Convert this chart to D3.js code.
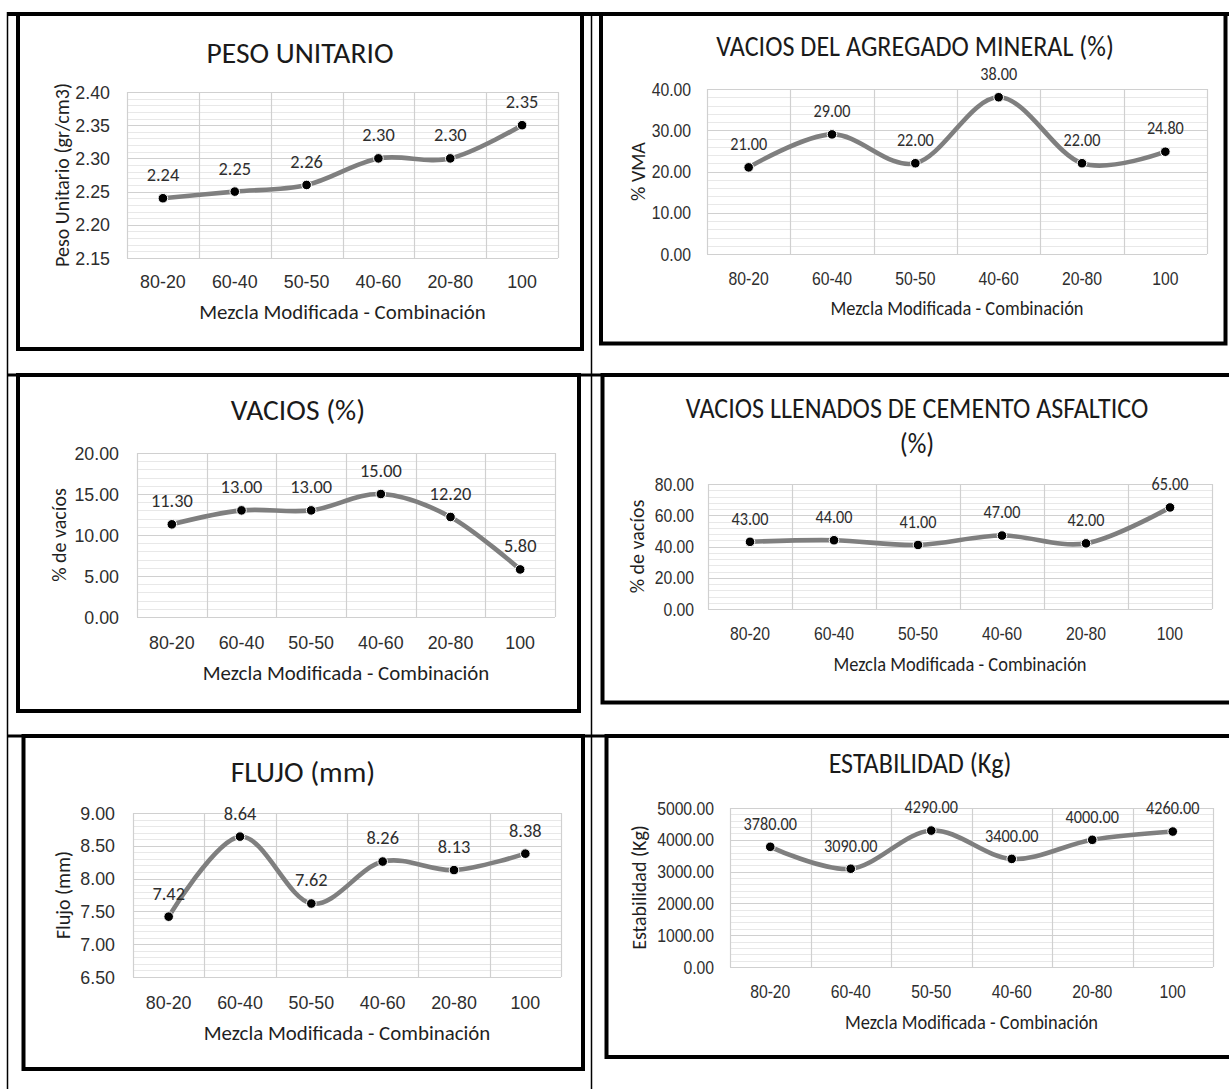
<!DOCTYPE html>
<html>
<head>
<meta charset="utf-8">
<script src="https://cdn.jsdelivr.net/npm/d3@7"></script>
<style>
  html, body { margin: 0; padding: 0; background: #fff; }
  svg { display: block; font-family: Carlito, Calibri, Lato, sans-serif; }
</style>
</head>
<body>
<svg id="sheet" width="1229" height="1089"></svg>
<script>
// Mix combinations tested (asphalt mix, modified)
const categories = ["80-20", "60-40", "50-50", "40-60", "20-80", "100"];

// Measured properties for each combination
const pesoUnitario = [2.24, 2.25, 2.26, 2.30, 2.30, 2.35];
const vma          = [21.00, 29.00, 22.00, 38.00, 22.00, 24.80];
const vacios       = [11.30, 13.00, 13.00, 15.00, 12.20, 5.80];
const vfa          = [43.00, 44.00, 41.00, 47.00, 42.00, 65.00];
const flujo        = [7.42, 8.64, 7.62, 8.26, 8.13, 8.38];
const estabilidad  = [3780, 3090, 4290, 3400, 4000, 4260];

// Value-axis tick labels
const yTicksPeso        = [2.15, 2.20, 2.25, 2.30, 2.35, 2.40];
const yTicksVma         = [0, 10, 20, 30, 40];
const yTicksVacios      = [0, 5, 10, 15, 20];
const yTicksVfa         = [0, 20, 40, 60, 80];
const yTicksFlujo       = [6.5, 7.0, 7.5, 8.0, 8.5, 9.0];
const yTicksEstabilidad = [0, 1000, 2000, 3000, 4000, 5000];

const xAxisTitle = "Mezcla Modificada - Combinación";

// Chart definitions: content + placement on the sheet
const charts = [
  { title: ["PESO UNITARIO"], yTitle: "Peso Unitario (gr/cm3)", values: pesoUnitario, ticks: yTicksPeso,
    frame: [18, 14, 582, 349], plot: [127, 92, 558, 258], titleX: 300, titleY: [53],
    yLabelRight: 110, yTitleX: 62, xLabelY: 282, xTitleY: 312, sx: 1.02 },
  { title: ["VACIOS DEL AGREGADO MINERAL (%)"], yTitle: "% VMA", values: vma, ticks: yTicksVma,
    frame: [601, 14, 1225.5, 343.5], plot: [707, 89, 1207, 254], titleX: 915, titleY: [46],
    yLabelRight: 691, yTitleX: 638, xLabelY: 279, xTitleY: 308, sx: 0.9 },
  { title: ["VACIOS (%)"], yTitle: "% de vacíos", values: vacios, ticks: yTicksVacios,
    frame: [18, 375, 579, 711], plot: [137, 453, 555, 617], titleX: 298, titleY: [410],
    yLabelRight: 119, yTitleX: 59, xLabelY: 643, xTitleY: 673, sx: 1.02 },
  { title: ["VACIOS LLENADOS DE CEMENTO ASFALTICO", "(%)"], yTitle: "% de vacíos", values: vfa, ticks: yTicksVfa,
    frame: [602.5, 375, 1240, 702.5], plot: [708, 484, 1212, 609], titleX: 917, titleY: [408, 443],
    yLabelRight: 694, yTitleX: 637, xLabelY: 634, xTitleY: 664, sx: 0.9 },
  { title: ["FLUJO (mm)"], yTitle: "Flujo (mm)", values: flujo, ticks: yTicksFlujo,
    frame: [23.5, 736, 583, 1069], plot: [133, 813, 561, 977], titleX: 303, titleY: [772],
    yLabelRight: 115, yTitleX: 63, xLabelY: 1003, xTitleY: 1033, sx: 1.02 },
  { title: ["ESTABILIDAD (Kg)"], yTitle: "Estabilidad (Kg)", values: estabilidad, ticks: yTicksEstabilidad,
    frame: [606.5, 736, 1240, 1057], plot: [730, 808, 1213, 967], titleX: 920, titleY: [763],
    yLabelRight: 714, yTitleX: 639, xLabelY: 992, xTitleY: 1022, sx: 0.9 }
];

const style = {
  titleSize: 29, xTitleSize: 20.5, yTitleSize: 20, tickSize: 17.5, labelSize: 18,
  titleColor: "#1a1a1a", axisTitleColor: "#1f1f1f", tickColor: "#2e2e2e", labelColor: "#2e2e2e",
  major: "#d0d0d0", minor: "#e8e8e8", line: "#7f7f7f", lineWidth: 4.6, marker: 4.8,
  labelOffset: 23
};

const svg = d3.select("#sheet");
const fmt = d3.format(".2f");

// Surrounding table rules
const table = svg.append("g").attr("stroke", "#000").attr("fill", "none");
table.append("line").attr("x1", 7).attr("x2", 1229).attr("y1", 14).attr("y2", 14).attr("stroke-width", 4);
table.append("line").attr("x1", 7.5).attr("x2", 7.5).attr("y1", 12).attr("y2", 1089).attr("stroke-width", 1.5);
table.append("line").attr("x1", 591.5).attr("x2", 591.5).attr("y1", 12).attr("y2", 1089).attr("stroke-width", 1.5);
table.append("line").attr("x1", 7).attr("x2", 1229).attr("y1", 375).attr("y2", 375).attr("stroke-width", 3);
table.append("line").attr("x1", 7).attr("x2", 1229).attr("y1", 736).attr("y2", 736).attr("stroke-width", 3);

function addText(g, x, y, str, size, color, sx, anchor) {
  return g.append("text")
    .attr("transform", `translate(${x},${y}) scale(${sx},1)`)
    .attr("text-anchor", anchor || "middle")
    .attr("dominant-baseline", "central")
    .attr("font-size", size)
    .attr("fill", color)
    .text(str);
}

charts.forEach(c => {
  const g = svg.append("g");
  const [fx1, fy1, fx2, fy2] = c.frame;
  const [pl, pt, pr, pb] = c.plot;

  // Chart frame
  g.append("rect")
    .attr("x", fx1).attr("y", fy1).attr("width", fx2 - fx1).attr("height", fy2 - fy1)
    .attr("fill", "#fff").attr("stroke", "#000").attr("stroke-width", 4);

  const x = d3.scaleBand().domain(categories).range([pl, pr]).padding(0);
  const y = d3.scaleLinear().domain(d3.extent(c.ticks)).range([pb, pt]);
  const cx = d => x(d) + x.bandwidth() / 2;

  // Minor horizontal gridlines (five subdivisions per major step)
  const minor = [];
  for (let i = 0; i < c.ticks.length - 1; i++) {
    const a = c.ticks[i], b = c.ticks[i + 1];
    for (let k = 1; k < 5; k++) minor.push(a + (b - a) * k / 5);
  }
  g.append("g").selectAll("line").data(minor).join("line")
    .attr("x1", pl).attr("x2", pr)
    .attr("y1", d => Math.round(y(d)) + 0.5).attr("y2", d => Math.round(y(d)) + 0.5)
    .attr("stroke", style.minor).attr("stroke-width", 1);

  // Major horizontal gridlines
  g.append("g").selectAll("line").data(c.ticks).join("line")
    .attr("x1", pl).attr("x2", pr)
    .attr("y1", d => Math.round(y(d)) + 0.5).attr("y2", d => Math.round(y(d)) + 0.5)
    .attr("stroke", style.major).attr("stroke-width", 1.2);

  // Vertical gridlines at category boundaries
  const edges = categories.map(d => x(d)).concat([pr]);
  g.append("g").selectAll("line").data(edges).join("line")
    .attr("x1", d => Math.round(d) + 0.5).attr("x2", d => Math.round(d) + 0.5)
    .attr("y1", pt).attr("y2", pb)
    .attr("stroke", style.major).attr("stroke-width", 1.2);

  // Value axis
  const ya = g.append("g").attr("transform", `translate(${c.yLabelRight},0)`)
    .call(d3.axisLeft(y).tickValues(c.ticks).tickFormat(fmt).tickSize(0).tickPadding(0));
  ya.select(".domain").remove();
  ya.selectAll("text")
    .attr("x", 0).attr("dy", "0.35em")
    .attr("transform", `scale(${c.sx},1)`)
    .attr("font-size", style.tickSize).attr("font-family", null)
    .attr("fill", style.tickColor);

  // Category axis
  const xa = g.append("g").attr("transform", `translate(0,${c.xLabelY})`)
    .call(d3.axisBottom(x).tickSize(0).tickPadding(0));
  xa.select(".domain").remove();
  xa.selectAll("text")
    .attr("y", 0).attr("dy", "0.35em")
    .attr("transform", `scale(${c.sx},1)`)
    .attr("font-size", style.tickSize).attr("font-family", null)
    .attr("fill", style.tickColor);

  // Titles
  c.title.forEach((t, i) => addText(g, c.titleX, c.titleY[i], t, style.titleSize, style.titleColor, c.sx));
  addText(g, (pl + pr) / 2, c.xTitleY, xAxisTitle, style.xTitleSize, style.axisTitleColor, c.sx);
  g.append("text")
    .attr("transform", `translate(${c.yTitleX},${(pt + pb) / 2}) rotate(-90)`)
    .attr("text-anchor", "middle").attr("dominant-baseline", "central")
    .attr("font-size", style.yTitleSize).attr("fill", style.axisTitleColor)
    .text(c.yTitle);

  // Smoothed series line
  const pts = categories.map((d, i) => [cx(d), y(c.values[i])]);
  g.append("path")
    .attr("d", d3.line().curve(d3.curveCardinal.tension(0))(pts))
    .attr("fill", "none").attr("stroke", style.line)
    .attr("stroke-width", style.lineWidth).attr("stroke-linecap", "round");

  // Markers
  g.append("g").selectAll("circle").data(pts).join("circle")
    .attr("cx", d => d[0]).attr("cy", d => d[1]).attr("r", style.marker)
    .attr("fill", "#000").attr("stroke", "#fff").attr("stroke-width", 1);

  // Data labels
  categories.forEach((d, i) => {
    addText(g, cx(d), y(c.values[i]) - style.labelOffset, fmt(c.values[i]),
      style.labelSize, style.labelColor, c.sx);
  });
});
</script>
</body>
</html>
